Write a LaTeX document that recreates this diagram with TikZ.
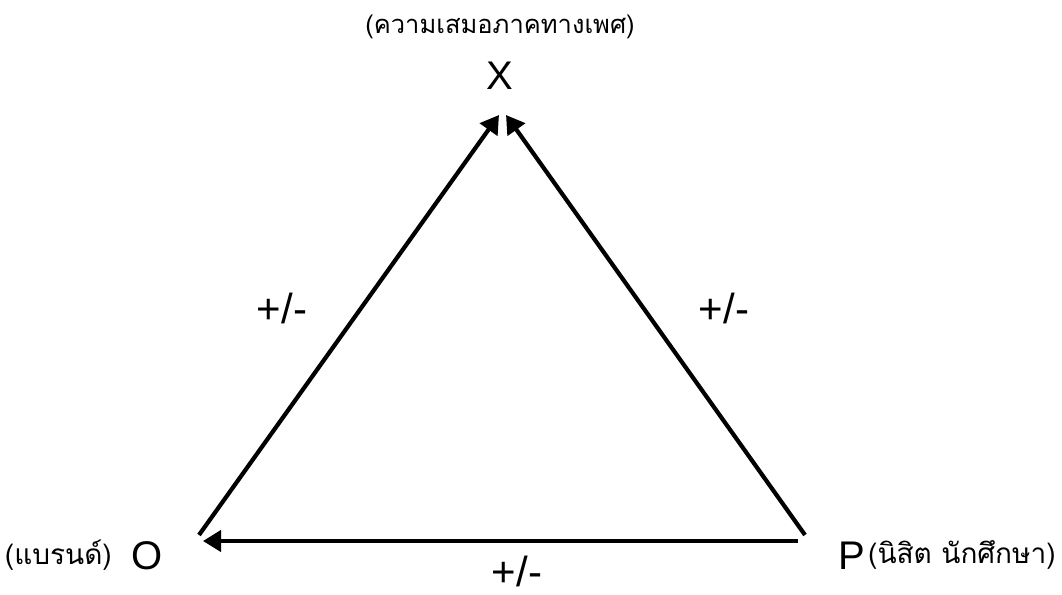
\documentclass[tikz,border=0pt]{standalone}
\usepackage{fontspec}
\setmainfont{Liberation Sans}
\newfontfamily\thaifont[Script=Thai]{Loma}
\usetikzlibrary{arrows.meta}
\tikzset{
  px/.style={x=1pt,y=-1pt},
  arr/.style={line width=4.2pt,-{Triangle[length=18pt,width=21pt]}},
  latin/.style={font=\fontsize{40}{44}\selectfont, inner sep=0pt},
  thai/.style={font=\thaifont\fontsize{28}{32}\selectfont, inner sep=0pt},
  thaitop/.style={font=\thaifont\fontsize{25.5}{30}\selectfont, inner sep=0pt},
  sign/.style={font=\fontsize{42}{46}\selectfont, inner sep=0pt}
}
\begin{document}
\begin{tikzpicture}[px]
\useasboundingbox (0,0) rectangle (1062,594);
\fill[white] (0,0) rectangle (1062,594);
% vertices
\node[latin] (X) at (500,76) {X};
\node[latin] (O) at (147,556) {O};
\node[latin] (P) at (852,556) {P};
% Thai labels
\node[thaitop] (xlab) at (500,27) {(ความเสมอภาคทางเพศ)};
\node[thai, anchor=east] (olab) at (112,555) {(แบรนด์)};
\node[thai, anchor=west] (plab) at (868,555) {(นิสิต นักศึกษา)};
% arrow end points
\coordinate (oUp) at (199,535);
\coordinate (xL) at (499,115);
\coordinate (pUp) at (805,535);
\coordinate (xR) at (506,115);
\coordinate (pL) at (798,541);
\coordinate (oR) at (203,541);
\draw[arr] (oUp) -- (xL);
\draw[arr] (pUp) -- (xR);
\draw[arr] (pL) -- (oR);
% signs
\node[sign] (s1) at (282,308) {+/-};
\node[sign] (s2) at (724,308) {+/-};
\node[sign] (s3) at (517,571) {+/-};
\end{tikzpicture}
\end{document}
